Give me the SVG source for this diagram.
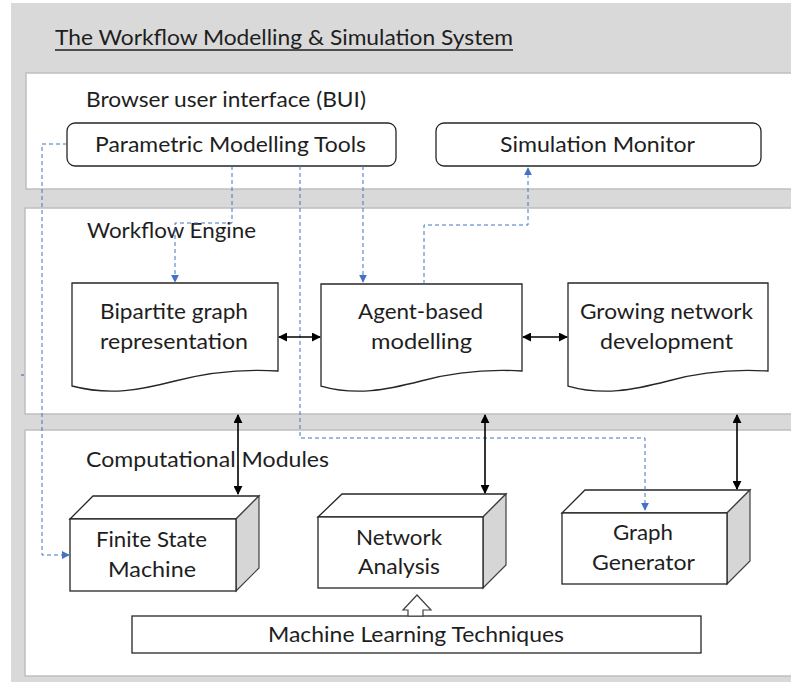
<svg xmlns="http://www.w3.org/2000/svg" width="791" height="682" viewBox="0 0 791 682">
<style>
text{font-family:Lato,"Open Sans","Liberation Sans",sans-serif;font-size:21px;fill:#1e1e1e}
.panel{fill:#fff;stroke:#bfbfbf;stroke-width:1.5}
.box{fill:#fff;stroke:#262626;stroke-width:1.3}
.side{fill:#d6d6d6;stroke:#404040;stroke-width:1.2}
.blue{fill:none;stroke:#4472c4;stroke-width:1;stroke-dasharray:4 3}
.blk{fill:none;stroke:#000;stroke-width:1.6}
</style>
<defs>
<marker id="bh" viewBox="0 0 10 10" refX="9" refY="5" markerWidth="8" markerHeight="8" markerUnits="userSpaceOnUse" orient="auto"><path d="M0,0 L10,5 L0,10 Z" fill="#4472c4"/></marker>
<marker id="ke" viewBox="0 0 10 10" refX="9" refY="5" markerWidth="9" markerHeight="9" markerUnits="userSpaceOnUse" orient="auto-start-reverse"><path d="M0,0 L10,5 L0,10 Z" fill="#000"/></marker>
</defs>
<rect x="11" y="3" width="780" height="679" fill="#d9d9d9"/>
<g id="title"><text x="55" y="45" textLength="458" lengthAdjust="spacingAndGlyphs">The Workflow Modelling &amp; Simulation System</text><line x1="55" y1="50" x2="513" y2="50" stroke="#1e1e1e" stroke-width="1.4"/></g>
<g id="bui-panel"><rect class="panel" x="26" y="73" width="775" height="116"/><text x="86" y="107" textLength="280" lengthAdjust="spacingAndGlyphs">Browser user interface (BUI)</text></g>
<g id="we-panel"><rect class="panel" x="25" y="208" width="776" height="206"/><text x="87" y="238" textLength="169" lengthAdjust="spacingAndGlyphs">Workflow Engine</text></g>
<g id="cm-panel"><rect class="panel" x="25" y="430" width="776" height="246"/><text x="86" y="467" textLength="243" lengthAdjust="spacingAndGlyphs">Computational Modules</text></g>
<g id="parametric"><rect class="box" x="67" y="123" width="329" height="43" rx="8"/><text x="95" y="152" textLength="271" lengthAdjust="spacingAndGlyphs">Parametric Modelling Tools</text></g>
<g id="monitor"><rect class="box" x="436" y="123" width="325" height="43" rx="8"/><text x="500" y="152" textLength="195" lengthAdjust="spacingAndGlyphs">Simulation Monitor</text></g>
<g id="bipartite"><path class="box" d="M72,283 H278 V371 C245,369 210,372 175,381 C140,390 110,396 72,386 Z"/><text x="100" y="319" textLength="148" lengthAdjust="spacingAndGlyphs">Bipartite graph</text><text x="100" y="349" textLength="148" lengthAdjust="spacingAndGlyphs">representation</text></g>
<g id="agent"><path class="box" d="M321,284 H522 V371 C489,369 454,372 421,381 C386,390 356,396 321,386 Z"/><text x="358" y="319" textLength="125" lengthAdjust="spacingAndGlyphs">Agent-based</text><text x="371" y="349" textLength="101" lengthAdjust="spacingAndGlyphs">modelling</text></g>
<g id="growing"><path class="box" d="M568,283 H768 V371 C735,369 700,372 668,381 C633,390 603,396 568,386 Z"/><text x="580" y="319" textLength="173" lengthAdjust="spacingAndGlyphs">Growing network</text><text x="600" y="349" textLength="133" lengthAdjust="spacingAndGlyphs">development</text></g>
<g id="fsm"><polygon class="box" points="70,519 93,496 259,496 236,519"/><polygon class="side" points="236,519 259,496 259,568 236,591"/><rect class="box" x="70" y="519" width="166" height="72"/><text x="96" y="547" textLength="111" lengthAdjust="spacingAndGlyphs">Finite State</text><text x="108" y="577" textLength="88" lengthAdjust="spacingAndGlyphs">Machine</text></g>
<g id="network"><polygon class="box" points="318,517 342,494 506,494 483,517"/><polygon class="side" points="483,517 506,494 506,565 483,588"/><rect class="box" x="318" y="517" width="165" height="71"/><text x="356" y="545" textLength="86" lengthAdjust="spacingAndGlyphs">Network</text><text x="358" y="574" textLength="82" lengthAdjust="spacingAndGlyphs">Analysis</text></g>
<g id="graphgen"><polygon class="box" points="562,513 585,490 750,490 727,513"/><polygon class="side" points="727,513 750,490 750,561 727,584"/><rect class="box" x="562" y="513" width="165" height="71"/><text x="613" y="540" textLength="60" lengthAdjust="spacingAndGlyphs">Graph</text><text x="592" y="570" textLength="103" lengthAdjust="spacingAndGlyphs">Generator</text></g>
<g id="ml"><rect class="box" x="132" y="616" width="569" height="37"/><text x="268" y="642" textLength="296" lengthAdjust="spacingAndGlyphs">Machine Learning Techniques</text></g>
<g id="connectors">
<path class="blue" d="M67,144 H42 V555 H69" marker-end="url(#bh)"/>
<path class="blue" d="M232,166 V223 H175 V282" marker-end="url(#bh)"/>
<path class="blue" d="M300,166 V438 H645 V510" marker-end="url(#bh)"/>
<path class="blue" d="M363,166 V282" marker-end="url(#bh)"/>
<path class="blue" d="M424,284 V225 H528 V168" marker-end="url(#bh)"/>
<line x1="21" y1="375" x2="24" y2="375" stroke="#4472c4" stroke-width="1.2"/>
<line class="blk" x1="279" y1="337" x2="320" y2="337" marker-start="url(#ke)" marker-end="url(#ke)"/>
<line class="blk" x1="523" y1="337" x2="567" y2="337" marker-start="url(#ke)" marker-end="url(#ke)"/>
<line class="blk" x1="238" y1="415" x2="238" y2="494" marker-start="url(#ke)" marker-end="url(#ke)"/>
<line class="blk" x1="485" y1="415" x2="485" y2="493" marker-start="url(#ke)" marker-end="url(#ke)"/>
<line class="blk" x1="737" y1="415" x2="737" y2="489" marker-start="url(#ke)" marker-end="url(#ke)"/>
<polygon points="417,595 431,610 423,610 423,616 408,616 408,610 403,610 417,595" fill="#fff" stroke="#404040" stroke-width="1.2"/>
</g>
</svg>
